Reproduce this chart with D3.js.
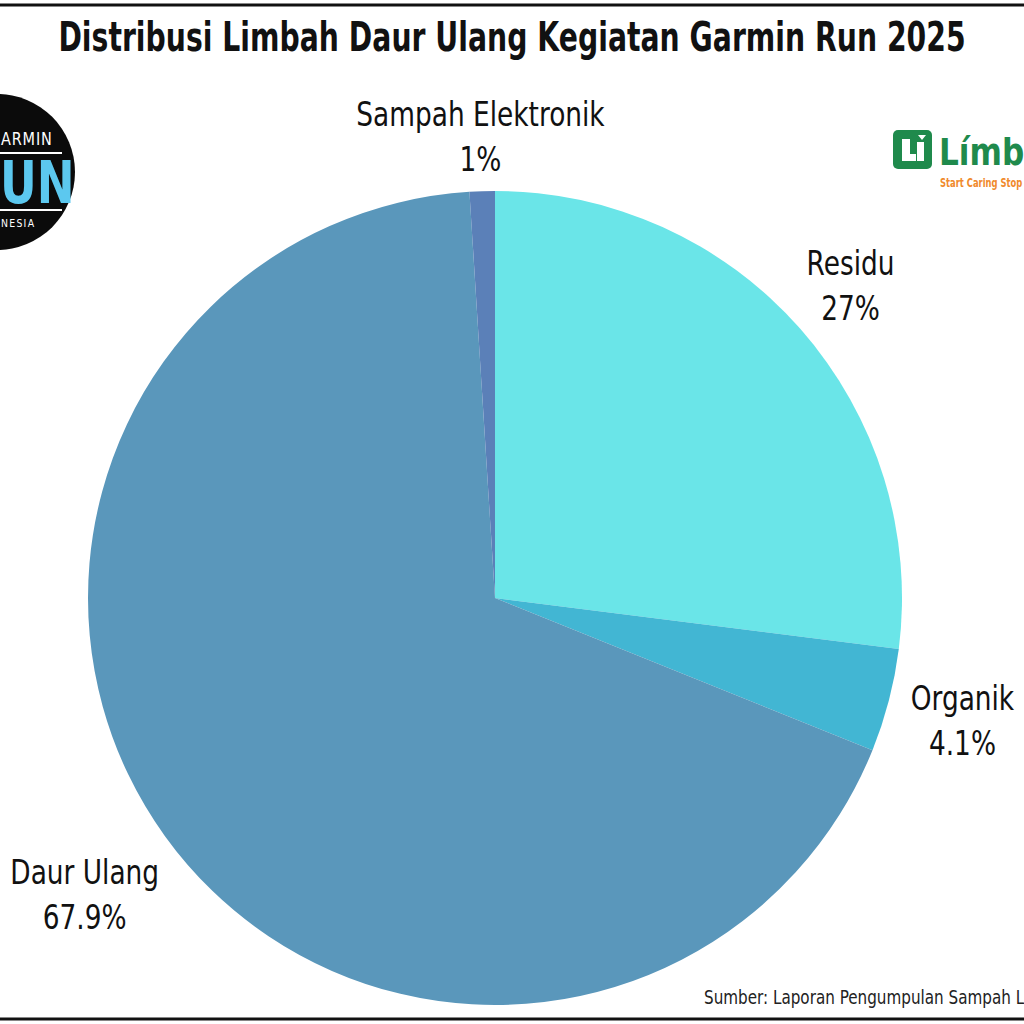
<!DOCTYPE html>
<meta charset="utf-8">
<script src="https://d3js.org/d3.v7.min.js"></script>
<style>
  body { margin: 0; background: #fff; }
  text { font-family: "DejaVu Sans", "Liberation Sans", sans-serif; }
</style>
<div id="chart"></div>
<script>

// data (percent of total)
var categories = ["Residu", "Organik", "Daur Ulang", "Sampah Elektronik"];
var values = [27, 4.1, 67.9, 1];
var valueLabels = ["27%", "4.1%", "67.9%", "1%"];
var sliceColors = ["#6ae5e8", "#42b6d3", "#5a97bb", "#5b80b8"];

var width = 1024, height = 1024;
var cx = 495, cy = 598, radius = 407;
var squeeze = 0.8;   // fake a condensed face

var svg = d3.select("#chart")
  .append("svg")
  .attr("width", width)
  .attr("height", height);

svg.append("rect").attr("width", width).attr("height", height).attr("fill", "#fff");

// frame lines top and bottom
svg.append("line").attr("x1", 0).attr("x2", width).attr("y1", 5).attr("y2", 5)
  .attr("stroke", "#111").attr("stroke-width", 3);
svg.append("line").attr("x1", 0).attr("x2", width).attr("y1", 1019).attr("y2", 1019)
  .attr("stroke", "#111").attr("stroke-width", 3);

// title
svg.append("text")
  .attr("transform", "translate(512,51) scale(0.69,1)")
  .attr("text-anchor", "middle")
  .attr("font-size", 41)
  .attr("font-weight", "bold")
  .attr("fill", "#111")
  .text("Distribusi Limbah Daur Ulang Kegiatan Garmin Run 2025");

// pie
var pie = d3.pie().sort(null).value(function(d) { return d; });
var arcs = pie(values);
var arc = d3.arc().innerRadius(0).outerRadius(radius);

var g = svg.append("g").attr("transform", "translate(" + cx + "," + cy + ")");

g.selectAll("path")
  .data(arcs)
  .enter()
  .append("path")
  .attr("d", arc)
  .attr("fill", function(d, i) { return sliceColors[i]; });

// labels sit outside the pie along the slice mid angle
var labelRadius = [474, 483, 506, 462];
var lbl = g.selectAll("g.lbl")
  .data(arcs)
  .enter()
  .append("g")
  .attr("class", "lbl")
  .attr("transform", function(d, i) {
    var a = (d.startAngle + d.endAngle) / 2;
    var r = labelRadius[i];
    return "translate(" + (Math.sin(a) * r) + "," + (-Math.cos(a) * r) + ") scale(" + squeeze + ",1)";
  });

lbl.append("text")
  .attr("text-anchor", "middle")
  .attr("y", -10)
  .attr("font-size", 33)
  .attr("fill", "#111")
  .text(function(d, i) { return categories[i]; });

lbl.append("text")
  .attr("text-anchor", "middle")
  .attr("y", 35)
  .attr("font-size", 33)
  .attr("fill", "#111")
  .text(function(d, i) { return valueLabels[i]; });

// source note (runs off the right edge in the original)
svg.append("text")
  .attr("transform", "translate(704,1004) scale(" + squeeze + ",1)")
  .attr("font-size", 19)
  .attr("fill", "#222")
  .text("Sumber: Laporan Pengumpulan Sampah L");

// Garmin Run badge (cropped at left edge)
var badge = svg.append("g").attr("transform", "translate(-3,172)");
badge.append("circle").attr("r", 78).attr("fill", "#0b0b0b");
badge.append("text").attr("transform", "translate(4,-27) scale(0.85,1)")
  .attr("font-size", 17).attr("fill", "#fff").attr("letter-spacing", 1).text("ARMIN");
badge.append("line").attr("x1", 0).attr("x2", 65).attr("y1", -19).attr("y2", -19)
  .attr("stroke", "#fff").attr("stroke-width", 2);
badge.append("text").attr("transform", "translate(3,31) scale(0.78,1)")
  .attr("font-size", 58).attr("font-weight", "bold").attr("fill", "#5cc8ef").text("UN");
badge.append("line").attr("x1", 0).attr("x2", 65).attr("y1", 38).attr("y2", 38)
  .attr("stroke", "#fff").attr("stroke-width", 2);
badge.append("text").attr("transform", "translate(4,55) scale(0.85,1)")
  .attr("font-size", 11).attr("fill", "#fff").attr("letter-spacing", 1.5).text("NESIA");

// Limbah logo (cropped at right edge)
var logo = svg.append("g").attr("transform", "translate(893,130)");
logo.append("rect").attr("width", 39).attr("height", 39).attr("rx", 5).attr("fill", "#1f8a4c");
logo.append("path").attr("d", "M9,9 h8 v15 h6 v7 h-14 z M24,12 h7 v19 h-7 z M25,5 l8,0 l-4,5 z")
  .attr("fill", "#fff");
logo.append("text").attr("transform", "translate(46,35) scale(0.82,1)").attr("font-size", 38).attr("font-weight", "bold")
  .attr("fill", "#1f8a4c").text("Límb");
logo.append("text").attr("transform", "translate(47,57) scale(0.7,1)").attr("font-size", 12).attr("font-weight", "bold")
  .attr("fill", "#f08a2c").text("Start Caring Stop");

</script>
